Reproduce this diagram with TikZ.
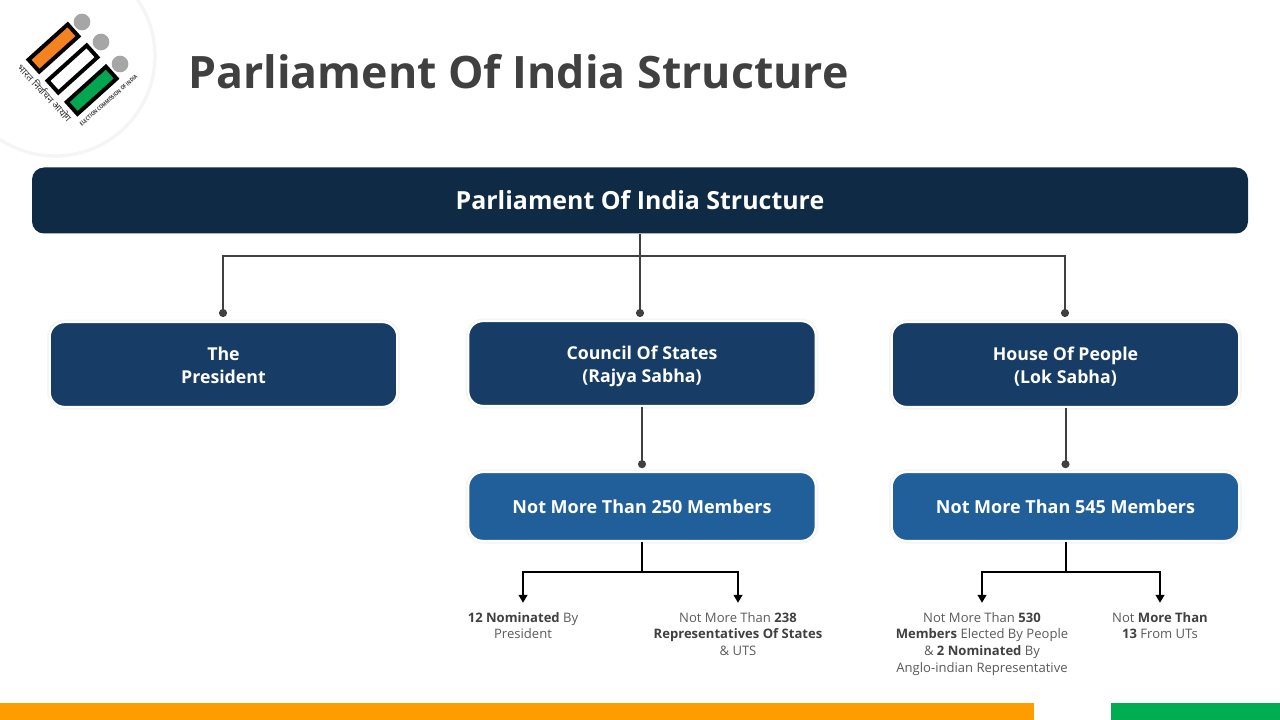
\documentclass[tikz,border=0pt]{standalone}
\usepackage{fontspec}
\setmainfont{Open Sans}
\newfontfamily\hindifont[Script=Devanagari]{Noto Sans}
\usepackage{xcolor}
\usepackage{tikz}
\usetikzlibrary{positioning,arrows.meta,calc}
\definecolor{rootcolor}{HTML}{0F2A44}
\definecolor{housecolor}{HTML}{173D66}
\definecolor{countcolor}{HTML}{215F9B}
\definecolor{linecolor}{HTML}{404040}
\definecolor{textcolor}{HTML}{5A5A5A}
\definecolor{saffron}{HTML}{FF9C00}
\definecolor{indiagreen}{HTML}{00AD50}
\definecolor{logoorange}{HTML}{F58220}
\definecolor{logogreen}{HTML}{00A650}
\tikzset{
  box base/.style={
    rectangle,
    rounded corners=11pt,
    minimum width=260.5pt,
    text=white,
    align=center,
    inner sep=0pt,
    font=\fontsize{13.3}{17.2}\selectfont\bfseries
  },
  soft edge/.style={
    draw=white,
    line width=1.5pt,
    preaction={draw=black!4, line width=4pt}
  },
  root box/.style={
    box base,
    fill=rootcolor,
    rounded corners=9pt,
    minimum width=912pt,
    minimum height=49.5pt,
    font=\fontsize{18.7}{22}\selectfont\bfseries
  },
  house box/.style={box base, soft edge, fill=housecolor, minimum height=63.5pt},
  count box/.style={
    box base,
    soft edge,
    fill=countcolor,
    minimum height=51.5pt,
    font=\fontsize{13.5}{17.2}\selectfont\bfseries
  },
  share label/.style={
    text=textcolor,
    align=center,
    inner sep=0pt,
    font=\fontsize{9.8}{12.45}\selectfont
  },
  dotline/.style={
    draw=linecolor,
    line width=1.5pt,
    -{Circle[length=6pt]}
  },
  branch/.style={
    draw=black,
    line width=1.5pt,
    -{Triangle[length=6pt,width=6.5pt]}
  },
  ballot/.style={
    rectangle,
    draw=black,
    line width=3pt,
    minimum width=39.5pt,
    minimum height=12pt,
    inner sep=0pt,
    rotate=42
  },
  ballot dot/.style={circle, fill=black!35, minimum size=12.5pt, inner sep=0pt},
  bar/.style={rectangle, inner sep=0pt, minimum height=12.8pt}
}
\newcommand{\hl}[1]{\textbf{\textcolor{linecolor}{#1}}}
\newcommand{\pair}[2]{\rule[-3.6pt]{0pt}{18.6pt}#1\\#2\rule[-3.6pt]{0pt}{10pt}}

\begin{document}
\begin{tikzpicture}[x=0.75pt,y=-0.75pt]
  \useasboundingbox (0,0) rectangle (1280,720);

  % Logo disc
  \node[circle, fill=white, draw=black!4, line width=2.5pt, minimum size=150pt, inner sep=0pt] (disc) at (55,56) {};
  \node[ballot dot] (dotA) at (82,22) {};
  \node[ballot dot] (dotB) at (101,42) {};
  \node[ballot dot] (dotC) at (120,64) {};
  \node[ballot, fill=logoorange] (ballotA) at (53.5,48) {};
  \node[ballot, fill=white] (ballotB) at (72.5,69) {};
  \node[ballot, fill=logogreen] (ballotC) at (91.7,90.3) {};
  \node[rotate=-47, font=\hindifont\fontsize{7.2}{8}\selectfont\bfseries, text=black!80, inner sep=0pt] (logohi) at (45,93) {भारत निर्वाचन आयोग};
  \node[rotate=41, font=\fontsize{4.2}{5}\selectfont\bfseries, text=black!80, inner sep=0pt] (logoen) at (108.5,100.5) {\scalebox{0.8}[1]{ELECTION COMMISSION OF INDIA}};

  % Heading
  \node[anchor=west, inner sep=0pt, text=linecolor, font=\fontsize{33.5}{40}\selectfont\bfseries] (heading) at (188,72) {Parliament Of India Structure};

  % Boxes
  \node[root box] (root) at (640,200.5) {Parliament Of India Structure};
  \node[house box] (president) at (223.5,364.5) {\pair{The}{President}};
  \node[house box] (council) at (642,363.5) {\pair{Council Of States}{(Rajya Sabha)}};
  \node[house box] (house) at (1065.5,364.5) {\pair{House Of People}{(Lok Sabha)}};
  \node[count box] (councilcount) at (642,506.5) {Not More Than 250 Members};
  \node[count box] (housecount) at (1065.5,506.5) {Not More Than 545 Members};

  % Share labels
  \node[share label, anchor=north] (nominated) at (523,612) {\hl{12 Nominated} By\\President};
  \node[share label, anchor=north] (states) at (738,612) {Not More Than \hl{238}\\\hl{Representatives Of States}\\\& UTS};
  \node[share label, anchor=north] (elected) at (982,612) {Not More Than \hl{530}\\\hl{Members} Elected By People\\\& \hl{2 Nominated} By\\Anglo-indian Representative};
  \node[share label, anchor=north] (union) at (1160,612) {Not \hl{More Than}\\\hl{13} From UTs};

  % Links from the root
  \coordinate (presidentdot) at (223,317);
  \coordinate (councildot) at (640,317);
  \coordinate (housedot) at (1065,317);
  \coordinate (rootfork) at (640,256);
  \draw[dotline] (root.south -| rootfork) -- (councildot);
  \draw[dotline] (rootfork) -- (presidentdot |- rootfork) -- (presidentdot);
  \draw[dotline] (rootfork) -- (housedot |- rootfork) -- (housedot);

  % Links to the counts
  \foreach \up/\down in {council/councilcount, house/housecount} {
    \coordinate (\down dot) at ($(\down.north)+(0,-3)$);
    \draw[dotline] (\up.south) -- (\down dot);
  }

  % Links to the labels
  \foreach \from/\left/\right in {councilcount/nominated/states, housecount/elected/union} {
    \coordinate (\from fork) at ($(\from.south)+(0,30)$);
    \draw[branch, -] (\from.south) -- (\from fork);
    \coordinate (\from A) at ($(\left.north |- \from fork)+(0,31)$);
    \coordinate (\from B) at ($(\right.north |- \from fork)+(0,31)$);
    \draw[branch] (\from fork) -| (\from A);
    \draw[branch] (\from fork) -| (\from B);
  }

  % Bottom bars
  \node[bar, fill=saffron, minimum width=775.5pt, anchor=south west] (barA) at (0,720) {};
  \node[bar, fill=indiagreen, minimum width=126.75pt, anchor=south east] (barB) at (1280,720) {};
\end{tikzpicture}
\end{document}
